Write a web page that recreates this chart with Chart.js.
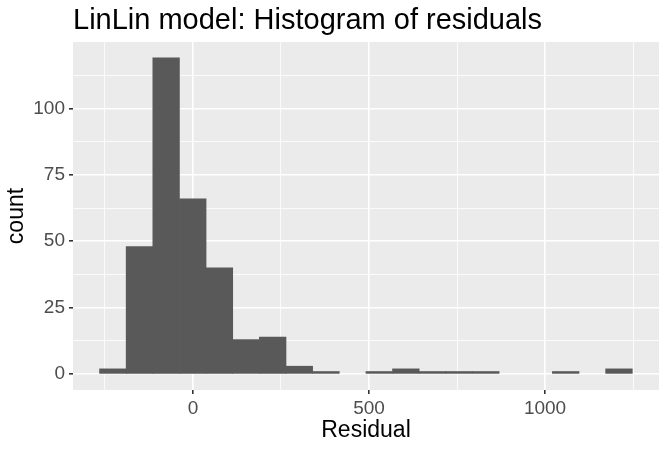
<!DOCTYPE html>
<html>
<head>
<meta charset="utf-8">
<script src="https://cdn.jsdelivr.net/npm/chart.js@4"></script>
<style>
  html, body { margin: 0; padding: 0; background: #fff; }
  #wrap { width: 667px; height: 450px; }
</style>
</head>
<body>
<div id="wrap"><canvas id="chart"></canvas></div>
<script>
// histogram bins (centres) and counts
const binCentres = [-227.4, -151.8, -76.1, -0.5, 75.2, 150.8, 226.5, 302.1, 377.8, 453.4,
                    529.1, 604.7, 680.4, 756.0, 831.7, 907.3, 983.0, 1058.6, 1134.3, 1209.9];
const counts = [2, 48, 119, 66, 40, 13, 14, 3, 1, 0, 1, 2, 1, 1, 1, 0, 0, 1, 0, 2];
const xMajor = [0, 500, 1000];
const xMinor = [-250, 250, 750, 1250];
const yMajor = [0, 25, 50, 75, 100];
const yMinor = [12.5, 37.5, 62.5, 87.5, 112.5];

const FONT = '"Liberation Sans", Arial, sans-serif';

const panelBg = {
  id: 'panelBg',
  afterLayout(chart) {
    // line the title up with the left edge of the panel, as ggplot does
    if (chart.titleBlock) chart.titleBlock.left = chart.chartArea.left;
  },
  beforeDraw(chart) {
    const { ctx, chartArea: a } = chart;
    ctx.save();
    ctx.fillStyle = '#EBEBEB';
    ctx.fillRect(a.left, a.top, a.right - a.left, a.bottom - a.top);
    ctx.restore();
  }
};

const isMajor = (list, v) => list.some(m => Math.abs(m - v) < 1e-6);
const tickVal = c => (c && c.tick ? c.tick.value : NaN);

new Chart(document.getElementById('chart').getContext('2d'), {
  type: 'bar',
  data: {
    datasets: [{
      data: binCentres.map((x, i) => ({ x: x, y: counts[i] || null })),
      backgroundColor: '#595959',
      borderWidth: 0,
      barPercentage: 1,
      categoryPercentage: 1
    }]
  },
  options: {
    responsive: true,
    maintainAspectRatio: false,
    animation: false,
    layout: { padding: { left: 0, right: 8, top: 0, bottom: 0 } },
    plugins: {
      legend: { display: false },
      tooltip: { enabled: false },
      title: {
        display: true,
        text: 'LinLin model: Histogram of residuals',
        align: 'start',
        color: '#000',
        font: { family: FONT, size: 29, weight: 'normal' },
        padding: { top: 4, bottom: 3.2 }
      }
    },
    scales: {
      x: {
        type: 'linear',
        min: -340.6,
        max: 1323.6,
        offset: false,
        border: { display: false },
        afterBuildTicks: s => { s.ticks = xMinor.concat(xMajor).sort((a, b) => a - b).map(v => ({ value: v })); },
        afterFit: s => { s.height = 60; },
        grid: {
          offset: false,
          color: '#FFFFFF',
          lineWidth: c => isMajor(xMajor, tickVal(c)) ? 1.6 : 0.8,
          tickColor: c => isMajor(xMajor, tickVal(c)) ? '#333333' : 'rgba(0,0,0,0)',
          tickLength: 4
        },
        ticks: {
          autoSkip: false,
          maxRotation: 0,
          color: '#4D4D4D',
          padding: 3,
          font: { family: FONT, size: 19 },
          callback: v => isMajor(xMajor, v) ? String(v) : ''
        },
        title: {
          display: true,
          text: 'Residual',
          color: '#000',
          font: { family: FONT, size: 23 },
          padding: { top: 2, bottom: 6 }
        }
      },
      y: {
        type: 'linear',
        min: -5.95,
        max: 124.95,
        border: { display: false },
        afterBuildTicks: s => { s.ticks = yMinor.concat(yMajor).sort((a, b) => a - b).map(v => ({ value: v })); },
        afterFit: s => { s.width = 73; },
        grid: {
          color: '#FFFFFF',
          lineWidth: c => isMajor(yMajor, tickVal(c)) ? 1.6 : 0.8,
          tickColor: c => isMajor(yMajor, tickVal(c)) ? '#333333' : 'rgba(0,0,0,0)',
          tickLength: 4
        },
        ticks: {
          autoSkip: false,
          color: '#4D4D4D',
          padding: 4,
          font: { family: FONT, size: 19 },
          callback: v => isMajor(yMajor, v) ? String(v) : ''
        },
        title: {
          display: true,
          text: 'count',
          color: '#000',
          font: { family: FONT, size: 23 },
          padding: { top: 3, bottom: 4 }
        }
      }
    }
  },
  plugins: [panelBg]
});
</script>
</body>
</html>
